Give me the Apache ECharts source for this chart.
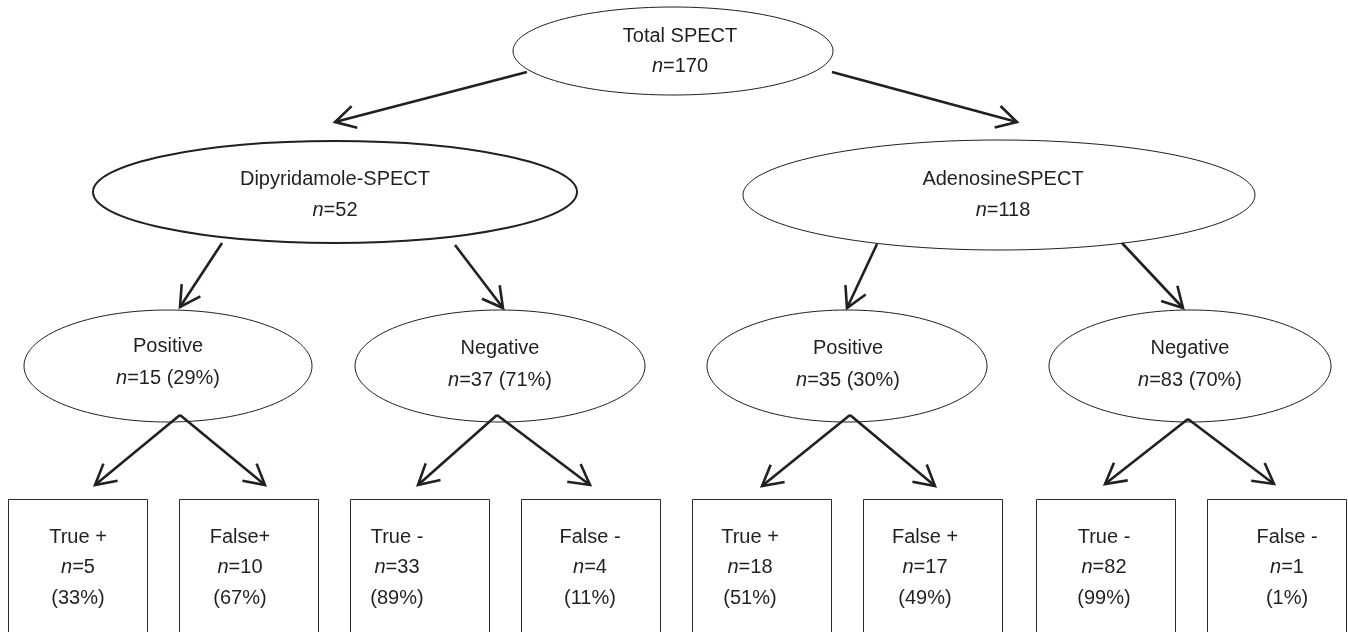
<!DOCTYPE html>
<html><head><meta charset="utf-8">
<script src="https://cdn.jsdelivr.net/npm/echarts/dist/echarts.min.js"></script>
<style>html,body{margin:0;padding:0;background:#fff}#c{width:1348px;height:632px}</style>
</head><body><div id="c"></div>
<script>
// ---- content ----
const ovalTitles = ['Total SPECT', 'Dipyridamole-SPECT', 'AdenosineSPECT', 'Positive', 'Negative', 'Positive', 'Negative'];
const ovalN = [170, 52, 118, 15, 37, 35, 83];
const ovalPct = [null, null, null, 29, 71, 30, 70];
const boxTitles = ['True +', 'False+', 'True -', 'False -', 'True +', 'False +', 'True -', 'False -'];
const boxN = [5, 10, 33, 4, 18, 17, 82, 1];
const boxPct = [33, 67, 89, 11, 51, 49, 99, 1];

// ---- layout (in the units of a hidden 1348 x 632 value grid) ----
const ovalCenters = [[673, 51], [335, 192], [999, 195], [168, 366], [500, 366], [847, 366], [1190, 366]];
const ovalRadii = [[160, 44], [242, 51], [256, 55], [144, 56], [145, 56], [140, 56], [141, 56]];
const ovalLineW = [1, 2, 1, 1, 1, 1, 1];
const ovalTextPos = [[680, 36, 66], [335, 179, 210], [1003, 179, 210], [168, 346, 378], [500, 348, 380], [848, 348, 380], [1190, 348, 380]];
const boxLefts = [8, 179, 350, 521, 692, 863, 1036, 1207];
const boxTop = 499, boxBottom = 645, boxW = 139;
const boxTextX = [78, 240, 397, 590, 750, 925, 1104, 1287];
const boxTextY = [537, 567, 598];
const arrowSegs = [
  [527, 72, 335, 122], [832, 72, 1017, 122],
  [222, 243, 180, 307], [455, 245, 503, 308],
  [877, 244, 847, 308], [1122, 243, 1183, 308],
  [180, 415, 95, 485], [180, 415, 265, 485],
  [497, 415, 418, 485], [497, 415, 590, 485],
  [850, 415, 762, 486], [850, 415, 935, 486],
  [1188, 419, 1105, 484], [1188, 419, 1274, 484]
];

const INK = '#231f20';
const FONT = 'Liberation Sans, Arial, Helvetica, sans-serif';
const FS = 20;

const chart = echarts.init(document.getElementById('c'), null, {renderer: 'canvas'});

function txt(text, p) {
  return {
    type: 'text',
    style: {
      text: text, x: p[0], y: p[1], align: 'center', verticalAlign: 'middle',
      fontSize: FS, fontFamily: FONT, fill: INK,
      rich: {i: {fontStyle: 'italic', fontSize: FS, fontFamily: FONT, fill: INK}}
    }
  };
}

const option = {
  animation: false,
  backgroundColor: '#ffffff',
  grid: {left: 0, right: 0, top: 0, bottom: 0},
  xAxis: {type: 'value', min: 0, max: 1348, show: false},
  yAxis: {type: 'value', min: 0, max: 632, inverse: true, show: false},
  series: [
    {
      type: 'custom', name: 'ovals', clip: false,
      data: ovalCenters.map((c, i) => [c[0], c[1], ovalRadii[i][0], ovalRadii[i][1]]),
      renderItem: function (params, api) {
        const i = params.dataIndex;
        const c = api.coord([api.value(0), api.value(1)]);
        const s = api.size([api.value(2), api.value(3)]);
        const tp = ovalTextPos[i];
        const line2 = '{i|n}=' + ovalN[i] + (ovalPct[i] != null ? ' (' + ovalPct[i] + '%)' : '');
        return {
          type: 'group',
          children: [
            {type: 'ellipse', shape: {cx: c[0], cy: c[1], rx: s[0], ry: s[1]},
             style: {fill: '#fff', stroke: INK, lineWidth: ovalLineW[i]}},
            txt(ovalTitles[i], api.coord([tp[0], tp[1]])),
            txt(line2, api.coord([tp[0], tp[2]]))
          ]
        };
      }
    },
    {
      type: 'custom', name: 'boxes', clip: false,
      data: boxLefts.map((x, i) => [x, boxTop, x + boxW, boxBottom]),
      renderItem: function (params, api) {
        const i = params.dataIndex;
        const a = api.coord([api.value(0), api.value(1)]);
        const b = api.coord([api.value(2), api.value(3)]);
        return {
          type: 'group',
          children: [
            {type: 'rect', shape: {x: a[0] + 0.5, y: a[1] + 0.5, width: b[0] - a[0], height: b[1] - a[1]},
             style: {fill: 'none', stroke: '#2b2b2b', lineWidth: 1}},
            txt(boxTitles[i], api.coord([boxTextX[i], boxTextY[0]])),
            txt('{i|n}=' + boxN[i], api.coord([boxTextX[i], boxTextY[1]])),
            txt('(' + boxPct[i] + '%)', api.coord([boxTextX[i], boxTextY[2]]))
          ]
        };
      }
    },
    {
      type: 'custom', name: 'arrows', clip: false,
      data: arrowSegs,
      renderItem: function (params, api) {
        const p1 = api.coord([api.value(0), api.value(1)]);
        const p2 = api.coord([api.value(2), api.value(3)]);
        const dx = p1[0] - p2[0], dy = p1[1] - p2[1];
        const len = Math.sqrt(dx * dx + dy * dy);
        const ux = dx / len, uy = dy / len;
        const L = 23, ang = 29 * Math.PI / 180;
        const rot = (a) => [p2[0] + L * (ux * Math.cos(a) - uy * Math.sin(a)), p2[1] + L * (ux * Math.sin(a) + uy * Math.cos(a))];
        return {
          type: 'group',
          children: [
            {type: 'line', shape: {x1: p1[0], y1: p1[1], x2: p2[0], y2: p2[1]},
             style: {stroke: INK, lineWidth: 2.6, lineCap: 'butt'}},
            {type: 'polyline', shape: {points: [rot(ang), p2, rot(-ang)]},
             style: {stroke: INK, fill: 'none', lineWidth: 2.6, lineJoin: 'miter'}}
          ]
        };
      }
    }
  ]
};
chart.setOption(option);
</script>
</body></html>
